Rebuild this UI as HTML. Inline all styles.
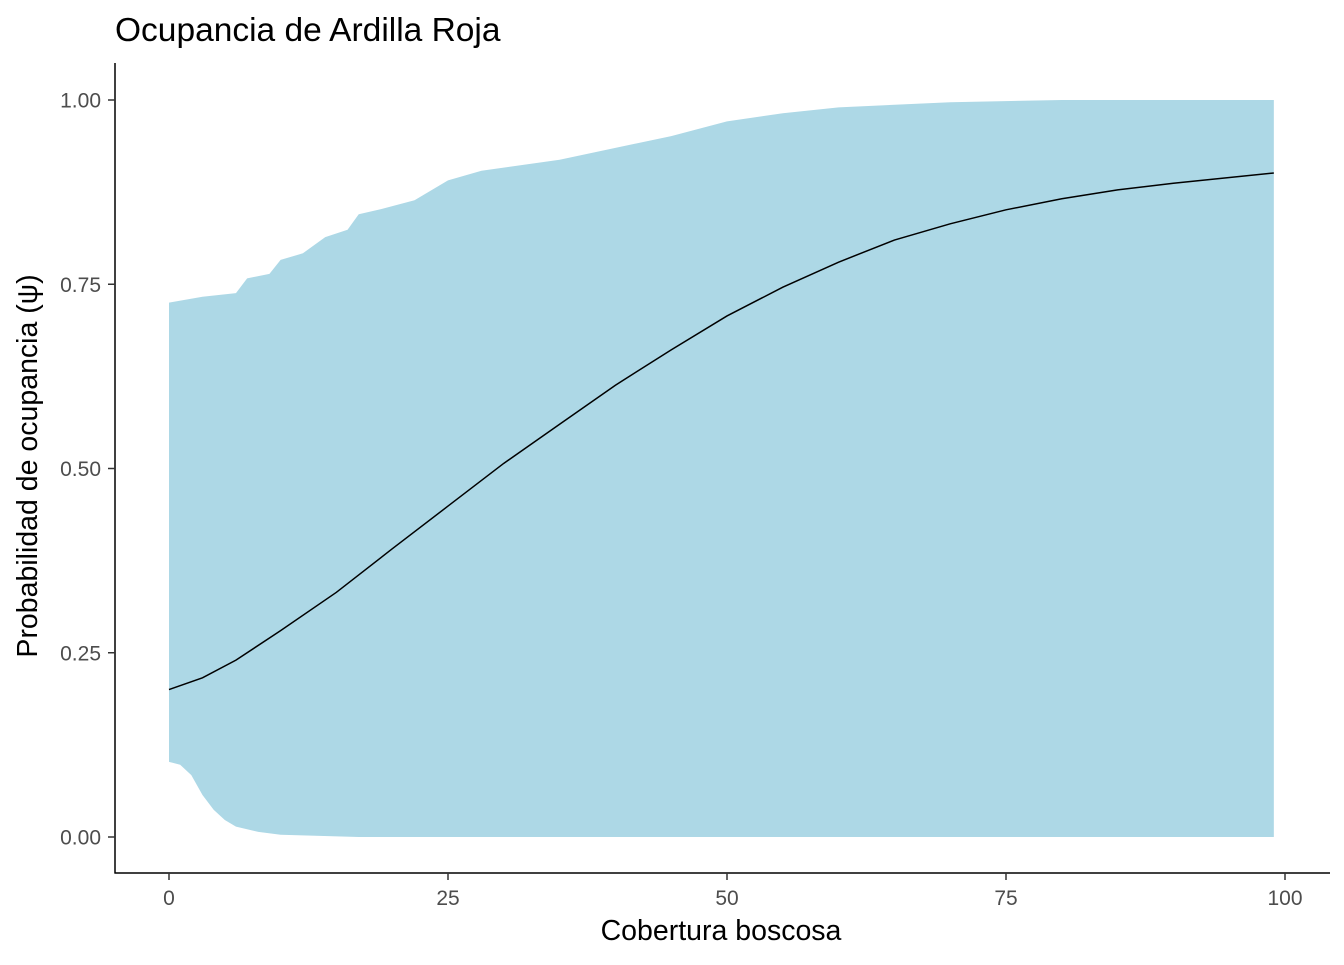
<!DOCTYPE html>
<html><head><meta charset="utf-8"><style>
body{margin:0;background:#fff;}
svg text{font-family:"Liberation Sans",sans-serif;}
</style></head><body>
<svg id="chart" width="1344" height="960" xmlns="http://www.w3.org/2000/svg">
<text x="115" y="41" font-size="33.5" fill="#000">Ocupancia de Ardilla Roja</text>
<g id="plot"></g>
<line x1="115" y1="63" x2="115" y2="873.5" stroke="#000" stroke-width="1.5"/>
<line x1="114.5" y1="873" x2="1330" y2="873" stroke="#000" stroke-width="1.5"/>
<g id="xticks"></g><g id="yticks"></g>
<text x="721" y="940" font-size="28.5" text-anchor="middle" fill="#000">Cobertura boscosa</text>
<text transform="translate(37,466) rotate(-90)" font-size="28.5" text-anchor="middle" fill="#000">Probabilidad de ocupancia (ψ)</text>
</svg>
<script>
const upperX=[0,3,6,7,9,10,12,14,16,17,19,22,25,28,35,40,45,50,55,60,70,80,99];
const upperY=[0.725,0.733,0.738,0.758,0.764,0.783,0.792,0.814,0.824,0.845,0.852,0.864,0.891,0.904,0.919,0.935,0.951,0.971,0.982,0.990,0.997,1.0,1.0];
const lowerX=[0,1,2,3,4,5,6,8,10,17,99];
const lowerY=[0.102,0.098,0.084,0.057,0.037,0.023,0.014,0.007,0.003,0.0,0.0];
const meanX=[0,3,6,10,15,20,25,30,35,40,45,50,55,60,65,70,75,80,85,90,99];
const meanY=[0.2,0.216,0.240,0.280,0.332,0.391,0.449,0.507,0.560,0.613,0.661,0.707,0.746,0.780,0.810,0.832,0.851,0.866,0.878,0.887,0.901];
const xTicks=[0,25,50,75,100];
const yTicks=[0,0.25,0.5,0.75,1.0];
const yTickLabels=["0.00","0.25","0.50","0.75","1.00"];
const sx=v=>169+v*11.16;
const sy=v=>837-v*737;
const NS="http://www.w3.org/2000/svg";
const plot=document.getElementById('plot');
let d="M"+upperX.map((x,i)=>sx(x)+","+sy(upperY[i])).join("L");
for(let i=lowerX.length-1;i>=0;i--) d+="L"+sx(lowerX[i])+","+sy(lowerY[i]);
d+="Z";
const rib=document.createElementNS(NS,'path');
rib.setAttribute('d',d);rib.setAttribute('fill','#add8e6');


plot.appendChild(rib);
const ln=document.createElementNS(NS,'path');
ln.setAttribute('d',"M"+meanX.map((x,i)=>sx(x)+","+sy(meanY[i])).join("L"));
ln.setAttribute('fill','none');ln.setAttribute('stroke','#000');ln.setAttribute('stroke-width','1.5');


plot.appendChild(ln);
const xg=document.getElementById('xticks');
xTicks.forEach(v=>{
  const t=document.createElementNS(NS,'line');
  t.setAttribute('x1',sx(v));t.setAttribute('x2',sx(v));t.setAttribute('y1',873);t.setAttribute('y2',880);
  t.setAttribute('stroke','#333');t.setAttribute('stroke-width','1.5');
  
  
  xg.appendChild(t);
  const l=document.createElementNS(NS,'text');
  l.setAttribute('x',sx(v));l.setAttribute('y',905);l.setAttribute('font-size','21');
  l.setAttribute('text-anchor','middle');l.setAttribute('fill','#4d4d4d');l.textContent=v;
  
  
  xg.appendChild(l);
});
const yg=document.getElementById('yticks');
yTicks.forEach((v,i)=>{
  const t=document.createElementNS(NS,'line');
  t.setAttribute('x1',108);t.setAttribute('x2',115);t.setAttribute('y1',sy(v));t.setAttribute('y2',sy(v));
  t.setAttribute('stroke','#333');t.setAttribute('stroke-width','1.5');
  
  
  yg.appendChild(t);
  const l=document.createElementNS(NS,'text');
  l.setAttribute('x',101);l.setAttribute('y',sy(v)+7.5);l.setAttribute('font-size','21');
  l.setAttribute('text-anchor','end');l.setAttribute('fill','#4d4d4d');l.textContent=yTickLabels[i];
  
  
  yg.appendChild(l);
});
</script>
</body></html>
